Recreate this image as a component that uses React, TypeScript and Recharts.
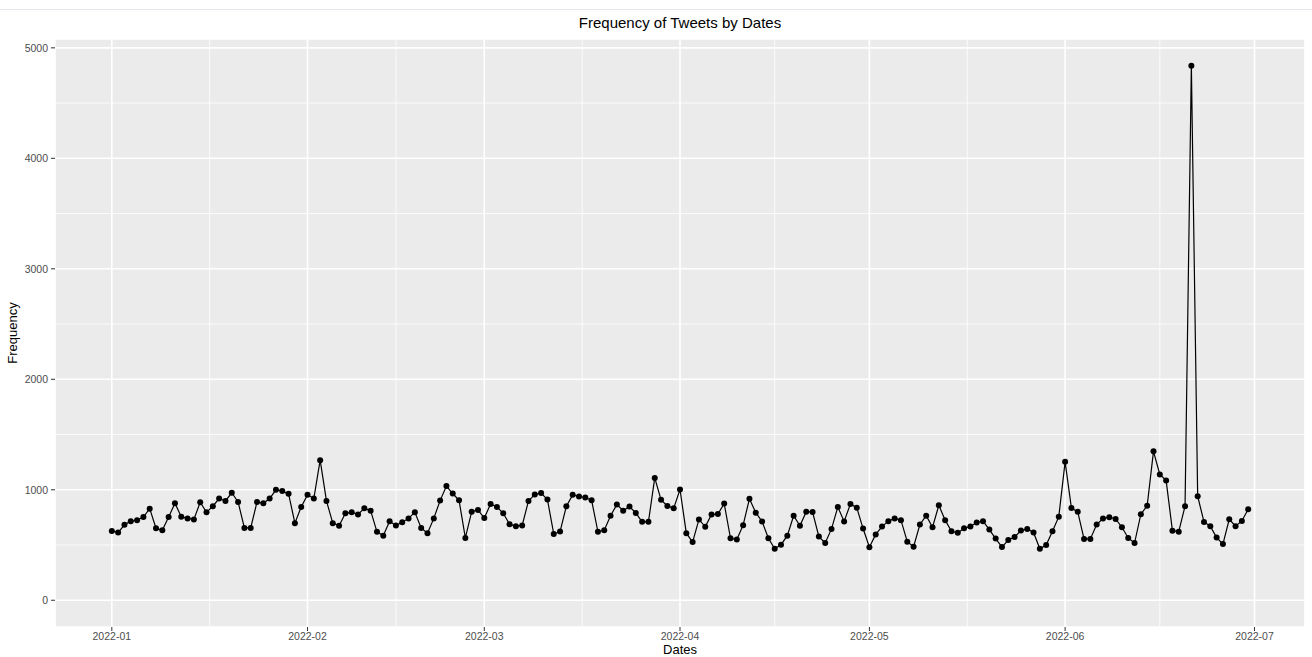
import {
  CartesianGrid,
  Line,
  LineChart,
  ReferenceLine,
  XAxis,
  YAxis,
} from "recharts";

// daily tweet counts, 2022-01-01 .. 2022-06-30
const jan = [
  628, 613, 683, 716, 725, 753, 829, 652, 634, 753, 878, 756, 741, 732, 887,
  796, 851, 921, 899, 973, 890, 655, 655, 890, 878, 921, 1000, 988, 963, 698,
  845,
];
const feb = [
  955, 921, 1268, 899, 698, 674, 787, 796, 777, 832, 811, 619, 585, 716, 677,
  707, 741, 796, 655, 607, 741, 902, 1034, 966, 905, 564, 802, 817,
];
const mar = [
  744, 872, 845, 787, 689, 671, 677, 899, 957, 970, 912, 600, 622, 851, 954,
  939, 930, 905, 619, 634, 765, 866, 811, 848, 790, 710, 710, 1107, 909, 854,
  832,
];
const apr = [
  1003, 607, 527, 732, 665, 777, 780, 875, 561, 549, 680, 918, 793, 713, 561,
  466, 503, 585, 765, 674, 802, 799, 576, 518, 646, 844, 713, 872, 838, 649,
];
const may = [
  480, 596, 667, 716, 741, 725, 530, 485, 686, 765, 661, 860, 725, 625, 610,
  652, 667, 704, 716, 640, 558, 481, 545, 573, 631, 646, 613, 466, 500, 625,
  757,
];
const jun = [
  1253, 835, 800, 555, 555, 685, 739, 752, 736, 661, 564, 518, 779, 855, 1348,
  1139, 1085, 630, 621, 852, 4838, 942, 709, 670, 567, 509, 733, 670, 718, 824,
];

const monthLabels = [
  "2022-01",
  "2022-02",
  "2022-03",
  "2022-04",
  "2022-05",
  "2022-06",
  "2022-07",
];
const monthStarts = [0, 31, 59, 90, 120, 151, 181]; // day index of each label
const yTicks = [0, 1000, 2000, 3000, 4000, 5000];
const yMinor = [500, 1500, 2500, 3500, 4500];

const xMinor = monthStarts
  .slice(1)
  .map((d, i) => (d + monthStarts[i]) / 2);

const data = [jan, feb, mar, apr, may, jun]
  .flat()
  .map((count, day) => ({ day, count }));

const FONT = "'Liberation Sans', Arial, sans-serif";
const tickStyle = { fontSize: 10.5, fill: "#4D4D4D", fontFamily: FONT };

export default function App() {
  return (
    <div
      style={{
        position: "absolute",
        left: 0,
        top: 0,
        width: 1312,
        height: 657,
        background: "#fff",
        fontFamily: FONT,
      }}
    >
      <div
        style={{
          position: "absolute",
          left: 0,
          top: 9,
          width: 1312,
          height: 1,
          background: "#E6E6EC",
        }}
      />
      <div
        style={{
          position: "absolute",
          left: 55,
          width: 1250,
          top: 14,
          lineHeight: "18px",
          fontSize: 15,
          textAlign: "center",
          color: "#000",
        }}
      >
        Frequency of Tweets by Dates
      </div>
      <LineChart
        width={1312}
        height={657}
        data={data}
        margin={{ top: 39, right: 7, bottom: 0, left: 0 }}
      >
        <CartesianGrid fill="#EBEBEB" stroke="#FFFFFF" strokeWidth={1.6} />
        {yMinor.map((v) => (
          <ReferenceLine key={"y" + v} y={v} stroke="#FFFFFF" strokeWidth={0.8} />
        ))}
        {xMinor.map((v) => (
          <ReferenceLine key={"x" + v} x={v} stroke="#FFFFFF" strokeWidth={0.8} />
        ))}
        <XAxis
          dataKey="day"
          type="number"
          domain={[-9, 189]}
          allowDataOverflow
          ticks={monthStarts}
          tickFormatter={(v) => monthLabels[monthStarts.indexOf(v)]}
          axisLine={false}
          tickLine={{ stroke: "#333333" }}
          tickSize={4}
          tick={tickStyle}
          height={30}
          label={{
            content: ({ viewBox }: any) => (
              <text
                x={viewBox.x + viewBox.width / 2}
                y={viewBox.y + 27}
                textAnchor="middle"
                fontSize={13}
                fontFamily={FONT}
                fill="#000"
              >
                Dates
              </text>
            ),
          }}
        />
        <YAxis
          type="number"
          domain={[-242, 5080]}
          allowDataOverflow
          ticks={yTicks}
          axisLine={false}
          tickLine={{ stroke: "#333333" }}
          tickSize={4}
          tickMargin={3}
          tick={tickStyle}
          width={55}
          label={{
            content: ({ viewBox }: any) => {
              const cx = 17;
              const cy = viewBox.y + viewBox.height / 2;
              return (
                <text
                  x={cx}
                  y={cy}
                  transform={`rotate(-90 ${cx} ${cy})`}
                  textAnchor="middle"
                  fontSize={13}
                  fontFamily={FONT}
                  fill="#000"
                >
                  Frequency
                </text>
              );
            },
          }}
        />
        <Line
          type="linear"
          dataKey="count"
          stroke="#000"
          strokeWidth={1.2}
          dot={{ r: 3, fill: "#000", stroke: "#000", strokeWidth: 0 }}
          activeDot={false}
          isAnimationActive={false}
        />
      </LineChart>
    </div>
  );
}
